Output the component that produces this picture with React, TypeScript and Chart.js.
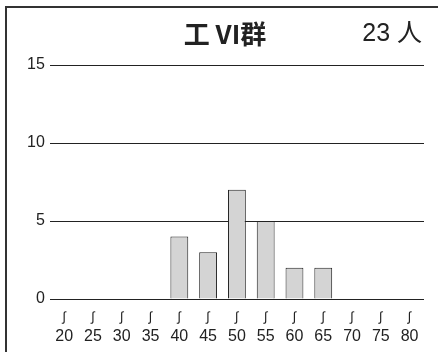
import React, { useEffect, useRef } from "react";
import { Chart, registerables } from "chart.js";

Chart.register(...registerables);

const categories = ["20", "25", "30", "35", "40", "45", "50", "55", "60", "65", "70", "75", "80"];
const counts = [0, 0, 0, 0, 4, 3, 7, 5, 2, 2, 0, 0, 0];
const yTicks = [0, 5, 10, 15];
const titleText = "工 VI群";
const totalText = "23 人";
const rangeMark = "∫";

const framePlugin = {
  id: "framePlugin",
  beforeDraw(chart: any) {
    const ctx = chart.ctx;
    ctx.save();
    ctx.strokeStyle = "#333";
    ctx.lineWidth = 2;
    ctx.strokeRect(6, 7, 500, 500);
    ctx.restore();
  },
  afterDraw(chart: any) {
    const ctx = chart.ctx;
    const xs = chart.scales.x;
    ctx.save();
    ctx.fillStyle = "#222";
    ctx.textBaseline = "middle";
    ctx.textAlign = "center";
    ctx.font = "bold 26px 'Noto Sans CJK JP', 'Liberation Sans', sans-serif";
    ctx.fillText(titleText, 225, 34);
    ctx.textAlign = "right";
    ctx.font = "25px 'Liberation Sans', 'Noto Sans CJK JP', sans-serif";
    ctx.fillText(totalText, 422, 34);
    ctx.textAlign = "center";
    ctx.font = "13px 'Liberation Sans', 'DejaVu Sans', sans-serif";
    categories.forEach((_, i) => {
      const x = xs.getPixelForTick(i);
      ctx.fillText(rangeMark, x, chart.chartArea.bottom + 18);
    });
    ctx.restore();
  },
};

export default function App() {
  const ref = useRef<HTMLCanvasElement | null>(null);
  useEffect(() => {
    if (!ref.current) return;
    const chart = new Chart(ref.current, {
      type: "bar",
      data: {
        labels: categories,
        datasets: [
          {
            data: counts,
            backgroundColor: "#d4d4d4",
            borderColor: "#222",
            borderWidth: 1,
            barPercentage: 0.62,
            categoryPercentage: 1,
          },
        ],
      },
      options: {
        responsive: false,
        animation: false,
        layout: { padding: { top: 65, right: 14, left: 22, bottom: 6 } },
        plugins: { legend: { display: false }, tooltip: { enabled: false }, title: { display: false } },
        scales: {
          x: {
            grid: { display: false, drawTicks: false },
            border: { display: false },
            afterFit: (s: any) => {
              s.height = 47;
              s.paddingLeft = 0;
              s.paddingRight = 0;
            },
            ticks: {
              color: "#222",
              font: { family: "'Liberation Sans', 'DejaVu Sans', sans-serif", size: 16, lineHeight: 1.2 },
              maxRotation: 0,
              autoSkip: false,
              padding: 28,
            },
          },
          y: {
            min: 0,
            max: 15,
            afterBuildTicks: (axis: any) => {
              axis.ticks = yTicks.map((v) => ({ value: v }));
            },
            grid: { color: "#222", lineWidth: 1, drawTicks: false },
            border: { display: false },
            ticks: {
              color: "#222",
              font: { family: "'Liberation Sans', sans-serif", size: 16 },
              padding: 5,
            },
          },
        },
      },
      plugins: [framePlugin],
    });
    return () => chart.destroy();
  }, []);
  return (
    <div style={{ position: "absolute", left: 0, top: 0, width: 438, height: 352, background: "#fff" }}>
      <canvas ref={ref} width={438} height={352} style={{ display: "block" }} />
    </div>
  );
}
